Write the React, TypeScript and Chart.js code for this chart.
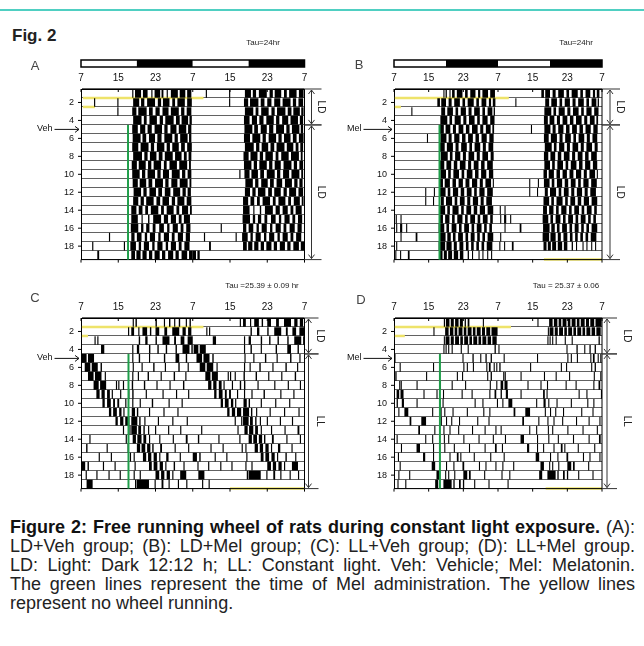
import React, { useEffect, useRef } from 'react';
import { Chart, registerables } from 'chart.js';

Chart.register(...registerables);
Chart.defaults.font.family = '"Liberation Sans", Arial, sans-serif';

// ---------------- DATA ----------------
const DAY_LABELS = ['1','2','3','4','5','6','7','8','9','10','11','12','13','14','15','16','17','18','19'];
const X_TICK_LABELS = ['7', '15', '23', '7', '15', '23', '7'];
const LIGHT_DARK = ['light', 'dark', 'light', 'dark'];
const PANEL_LETTERS = ['A', 'B', 'C', 'D'];
const TAU_TEXTS = ['Tau=24hr', 'Tau=24hr', 'Tau =25.39 \u00b1 0.09 hr', 'Tau = 25.37 \u00b1 0.06'];
const TREATMENTS = ['Veh', 'Mel', 'Veh', 'Mel'];
const TREATMENT_START_DAY = 5;
const MEL_HOURS = [10.1, 10.5, 10.2, 10.6];
const CONDITIONS_AB = [['LD', 1, 4], ['LD', 5, 19]];
const CONDITIONS_CD = [['LD', 1, 4], ['LL', 5, 19]];
// [row boundary index, from hour, to hour]
const NO_RUN_A = [[1, 0.4, 26.3], [2, 0.4, 3.0]];
const NO_RUN_B = [[1, 0.2, 26.5], [2, 0.2, 1.6], [19, 34.6, 48]];
const NO_RUN_C = [[1, 0.2, 26.3], [2, 0.2, 1.5], [19, 32.0, 48]];
const NO_RUN_D = [[1, 0.2, 27.0], [2, 0.2, 2.5], [19, 35.0, 48]];

// activity bouts per day, hours after 7:00 (double plotted: row n = day n + day n+1)
const A_DAY_BOUTS = [
  [[11.0,11.25],[11.6,12.9],[13.3,14.3],[15.1,15.35],[15.8,17.0],[17.3,17.7],[18.4,18.65],[19.3,20.8],[21.2,22.4],[22.8,23.7]],
  [[2.8,3.05],[7.8,8.05],[11.2,12.5],[12.9,13.6],[14.2,15.9],[16.5,17.2],[17.6,19.0],[19.6,20.2],[20.7,22.3],[22.8,23.8]],
  [[7.8,8.05],[11.0,11.9],[12.3,14.1],[14.6,15.4],[16.0,16.9],[17.5,18.8],[19.3,21.0],[21.5,22.2],[22.7,23.7]],
  [[11.2,13.0],[13.5,14.1],[14.7,16.3],[16.9,17.6],[18.1,19.9],[20.4,21.2],[21.6,23.0],[23.3,23.8]],
  [[11.0,12.2],[12.7,13.8],[14.3,15.2],[15.8,17.4],[17.9,18.6],[19.2,20.5],[21.0,22.6],[23.0,23.7]],
  [[11.1,12.8],[13.2,14.0],[14.6,15.9],[16.4,17.3],[17.9,19.6],[20.1,20.8],[21.3,22.9],[23.2,23.7]],
  [[11.0,12.3],[12.8,14.5],[15.0,15.7],[16.3,17.9],[18.4,19.1],[19.6,21.0],[21.5,22.3],[22.8,23.8]],
  [[11.2,13.1],[13.6,14.3],[14.8,16.2],[16.7,17.5],[18.0,19.7],[20.2,21.6],[22.1,22.7],[23.1,23.7]],
  [[10.9,12.0],[12.4,13.9],[14.4,15.1],[15.6,17.2],[17.8,18.4],[19.0,20.6],[21.1,22.8],[23.2,23.6]],
  [[11.0,12.6],[13.1,13.8],[14.3,15.9],[16.4,17.1],[17.6,18.9],[19.5,21.2],[21.7,22.4],[22.9,23.7]],
  [[10.0,10.25],[11.1,12.2],[12.6,14.0],[14.5,15.3],[15.9,17.6],[18.1,18.8],[19.4,20.7],[21.2,22.9],[23.3,23.7]],
  [[11.3,12.9],[13.4,14.1],[14.7,16.1],[16.6,17.4],[18.0,19.2],[19.8,21.3],[21.8,22.5],[22.9,23.6]],
  [[11.2,12.3],[12.8,13.5],[14.0,15.6],[16.2,17.0],[17.5,18.9],[19.5,20.2],[20.7,22.2],[22.7,23.7]],
  [[10.8,11.9],[12.4,13.2],[13.8,14.4],[15.0,16.6],[17.2,17.8],[18.4,19.9],[20.5,21.1],[21.7,23.0],[23.4,23.8]],
  [[10.8,12.2],[13.0,13.25],[14.4,14.7],[15.5,17.2],[17.8,18.7],[19.3,20.4],[21.0,21.6],[22.1,23.4]],
  [[10.7,12.3],[12.9,13.4],[14.0,14.7],[15.4,16.0],[16.8,17.8],[18.5,19.0],[19.7,20.8],[21.4,22.0],[22.6,23.5]],
  [[6.0,6.25],[10.8,11.5],[12.0,13.0],[13.7,14.2],[14.8,15.9],[16.6,17.1],[17.8,18.9],[19.5,20.1],[20.8,21.9],[22.5,23.4]],
  [[2.4,2.65],[9.2,9.45],[10.6,11.8],[12.4,12.9],[13.5,14.6],[15.3,15.8],[16.4,17.5],[18.2,18.7],[19.3,20.4],[21.0,21.6],[22.2,23.3]],
  [[3.5,3.9],[10.8,11.6],[11.9,12.8],[13.2,14.1],[14.6,15.3],[15.8,16.9],[17.4,18.1],[18.7,19.8],[20.3,21.0],[21.6,22.8],[23.2,24.0]],
  [[0.0,0.7],[1.0,1.5]],
];

const B_DAY_BOUTS = [
  [[11.4,11.65],[11.9,12.2],[12.8,13.05],[13.4,14.0],[14.5,15.8],[16.4,17.0],[17.6,18.8],[19.4,19.9],[20.4,21.7],[22.2,23.3]],
  [[10.0,10.6],[10.9,12.0],[12.6,13.3],[13.9,15.2],[15.8,16.4],[17.0,18.4],[19.0,19.6],[20.2,21.3],[21.9,22.4],[22.8,23.4]],
  [[4.0,4.25],[10.9,11.8],[12.3,13.6],[14.2,14.8],[15.4,16.6],[17.2,17.9],[18.5,19.8],[20.4,21.0],[21.6,22.7],[23.0,23.3]],
  [[10.7,12.3],[12.8,13.4],[14.0,15.4],[16.0,16.7],[17.3,18.6],[19.2,19.8],[20.4,21.6],[22.2,23.2]],
  [[10.6,11.5],[11.9,13.0],[13.6,14.3],[14.9,16.0],[16.6,17.4],[18.0,19.3],[19.9,20.6],[21.2,22.3],[22.7,23.1]],
  [[7.6,7.85],[10.7,12.1],[12.6,13.3],[13.9,15.1],[15.7,16.5],[17.1,18.2],[18.8,19.6],[20.2,21.4],[22.0,23.0]],
  [[10.6,11.7],[12.2,13.6],[14.2,14.9],[15.5,16.8],[17.4,18.0],[18.6,19.9],[20.5,21.2],[21.8,22.9]],
  [[10.8,12.4],[12.9,13.5],[14.1,15.3],[15.9,16.6],[17.2,18.5],[19.1,19.8],[20.4,21.7],[22.3,23.0]],
  [[10.6,11.6],[12.1,13.2],[13.8,14.6],[15.2,16.5],[17.1,17.8],[18.4,19.5],[20.1,20.9],[21.5,22.8]],
  [[10.7,12.0],[12.5,13.1],[13.7,15.0],[15.6,16.2],[16.8,18.1],[18.7,19.5],[20.1,21.3],[21.9,22.9]],
  [[10.5,11.3],[11.7,12.9],[13.5,14.3],[14.9,15.9],[16.5,17.4],[18.0,19.2],[19.8,20.5],[21.1,22.4],[22.8,23.05]],
  [[7.2,7.45],[9.2,9.45],[10.6,11.9],[12.4,13.0],[13.6,14.8],[15.4,16.2],[16.8,17.9],[18.5,19.1],[19.7,20.9],[21.5,22.8]],
  [[7.2,7.45],[9.0,9.25],[10.8,11.5],[12.0,13.4],[14.0,14.6],[15.2,16.3],[16.9,17.6],[18.2,19.4],[20.0,20.7],[21.3,22.6]],
  [[10.5,11.8],[12.3,12.9],[13.5,14.9],[15.5,16.1],[16.7,17.8],[18.4,19.2],[19.8,21.0],[21.6,22.9]],
  [[0.4,0.65],[1.5,1.75],[10.4,11.3],[11.8,12.8],[13.4,14.0],[14.6,15.8],[16.4,17.0],[17.6,18.7],[19.3,19.9],[20.5,21.6],[22.2,22.8]],
  [[0.5,0.75],[1.4,1.9],[2.8,3.05],[10.3,11.6],[12.1,12.7],[13.3,14.4],[15.0,15.6],[16.2,17.3],[17.9,18.5],[19.1,20.2],[20.8,21.4],[22.0,22.6]],
  [[1.5,1.75],[5.0,5.4],[10.4,11.9],[12.3,13.1],[13.6,14.2],[14.8,15.9],[16.5,17.1],[17.7,18.6],[19.2,19.8],[20.4,21.0],[21.6,22.9]],
  [[0.5,0.75],[10.3,11.8],[12.1,13.3],[13.8,14.5],[15.1,16.0],[16.6,17.2],[17.8,18.4],[19.0,19.6],[20.2,20.8],[21.4,22.7]],
  [[0.3,0.55],[1.4,1.65],[3.2,3.6],[10.5,11.2],[11.5,12.2],[12.5,13.4],[13.8,14.8],[15.2,16.0],[17.0,17.3],[18.0,18.25],[19.5,19.75],[20.4,20.65],[21.5,21.75],[22.4,22.65]],
  [],
];

const C_DAY_BOUTS = [
  [[11.1,11.35],[11.7,12.0],[16.0,16.3],[17.8,18.05],[18.9,19.2],[20.0,20.25],[21.0,21.3],[22.5,22.75],[23.3,23.6]],
  [[10.1,10.35],[10.8,11.4],[12.3,12.55],[13.2,14.2],[14.8,15.1],[16.0,16.8],[17.9,18.5],[19.6,21.1],[21.8,22.5],[23.0,23.7]],
  [[2.9,3.15],[3.5,3.75],[12.4,12.7],[13.8,14.3],[16.0,16.3],[17.5,19.0],[20.0,20.4],[21.4,22.2],[22.9,24.0]],
  [[4.3,5.0],[11.0,11.25],[12.0,12.5],[14.6,14.9],[16.4,16.7],[18.2,18.5],[20.3,20.6],[21.8,23.3],[23.7,24.0]],
  [[0.2,1.2],[1.5,2.8],[11.0,11.25],[12.4,12.7],[14.6,14.85],[17.8,18.1],[20.3,21.1],[22.5,22.8]],
  [[0.8,2.0],[2.3,3.6],[4.2,4.5],[11.1,11.35],[13.0,13.25],[15.5,15.8],[18.0,18.25],[20.9,21.2],[22.9,23.15]],
  [[1.5,2.7],[3.0,4.4],[5.1,5.35],[11.0,11.25],[12.2,12.45],[14.3,14.6],[17.1,17.35],[19.9,20.2],[22.4,22.65]],
  [[2.7,3.8],[4.1,5.4],[7.5,7.75],[8.0,8.25],[9.0,9.25],[10.9,11.2],[13.5,13.8],[16.2,16.45],[19.0,19.25],[21.9,22.2]],
  [[3.3,4.0],[4.4,5.1],[5.6,6.2],[6.6,6.85],[8.4,8.65],[10.1,10.4],[11.0,11.3],[13.9,14.15],[17.5,17.75],[20.4,20.65],[23.0,23.25]],
  [[4.6,5.1],[5.6,6.4],[6.9,7.3],[7.8,8.2],[9.5,9.75],[11.0,11.25],[12.6,12.85],[15.2,15.5],[18.8,19.05],[21.6,21.85]],
  [[6.0,6.5],[6.9,7.7],[8.2,8.7],[9.1,9.35],[10.9,11.6],[12.0,12.3],[14.6,14.85],[17.7,17.95],[20.7,20.95]],
  [[7.4,7.9],[8.4,9.1],[9.5,10.4],[10.8,12.1],[12.5,12.8],[13.6,13.85],[16.5,16.75],[19.6,19.85],[22.7,22.95]],
  [[9.0,9.25],[10.4,10.65],[10.8,12.0],[12.3,12.9],[13.4,13.7],[14.4,14.65],[15.9,16.15],[18.7,18.95],[21.3,21.55]],
  [[1.8,2.05],[9.6,9.85],[11.1,11.8],[12.1,13.0],[13.4,14.0],[14.6,14.85],[16.8,17.05],[19.7,19.95],[22.5,22.9]],
  [[1.1,1.4],[5.5,5.75],[10.0,10.25],[12.0,12.7],[13.0,13.8],[14.2,14.9],[15.3,15.6],[17.0,17.4],[20.1,20.35],[23.0,23.25]],
  [[3.8,4.05],[6.4,6.65],[10.5,10.75],[11.3,11.55],[13.3,14.0],[14.4,15.1],[15.6,16.3],[16.8,17.05],[18.3,18.8],[21.2,21.45]],
  [[0.0,0.9],[1.4,1.7],[4.7,4.95],[7.2,7.45],[11.5,11.75],[14.6,15.2],[15.6,16.4],[16.9,17.6],[18.1,18.35],[19.9,20.2],[22.0,22.25]],
  [[1.0,1.25],[3.3,3.55],[5.9,6.15],[8.3,8.55],[11.3,11.55],[12.6,12.85],[16.0,16.8],[17.2,17.9],[18.4,19.1],[19.6,19.85],[21.3,22.6]],
  [[1.2,2.5],[11.6,11.9],[12.0,14.6],[15.8,16.05],[17.3,17.7],[18.8,19.05],[20.8,21.05],[22.6,22.85]],
  [[2.0,2.25],[3.4,3.65]],
];

const D_DAY_BOUTS = [
  [[11.5,11.8],[12.0,12.8],[13.1,13.8],[14.1,14.9],[15.2,15.9],[16.3,16.6],[17.0,17.4],[20.5,20.75]],
  [[9.1,9.35],[11.8,12.6],[12.9,13.7],[14.0,14.6],[14.9,15.8],[16.1,16.7],[17.0,17.9],[18.2,18.8],[19.1,20.0],[20.3,21.0],[21.3,22.2],[22.5,23.9]],
  [[11.5,11.75],[11.9,12.8],[13.1,13.8],[14.1,15.0],[15.3,15.9],[16.2,17.1],[17.4,18.0],[18.3,19.2],[19.5,20.1],[20.4,21.3],[21.6,22.4],[22.7,23.7]],
  [[11.4,11.65],[11.9,12.15],[12.5,12.75],[13.3,13.55],[15.4,15.65],[17.0,17.25],[23.2,23.5]],
  [[0.1,0.35],[15.8,16.05],[18.1,18.4],[19.9,20.15],[21.1,21.4],[22.3,22.6]],
  [[1.3,1.55],[9.0,9.25],[16.0,16.25],[16.8,17.05],[18.2,18.45],[21.3,21.55],[21.9,22.3],[23.0,23.25],[23.6,23.85]],
  [[0.3,0.6],[7.4,7.65],[14.5,14.75],[15.7,15.95],[21.5,21.75],[22.3,22.6]],
  [[1.2,1.4],[1.5,1.8],[5.2,5.45],[10.6,10.85],[13.3,13.55],[16.4,16.65],[22.1,22.35],[23.6,23.85]],
  [[0.6,1.2],[1.5,2.2],[6.8,7.05],[9.8,10.05],[11.3,11.55],[15.6,15.85],[17.9,18.15],[22.0,22.25],[23.2,23.6]],
  [[0.6,0.9],[1.8,2.3],[5.2,5.45],[10.4,10.8],[11.2,11.45],[18.6,18.85],[20.4,20.65],[23.75,24.0]],
  [[1.0,1.25],[2.4,3.3],[8.8,9.05],[10.5,11.0],[11.6,11.85],[13.5,13.75],[16.8,17.05],[20.6,20.85],[22.0,22.25]],
  [[3.6,4.0],[6.3,7.4],[10.8,11.05],[12.0,12.25],[13.2,13.45],[15.0,15.25],[19.2,19.45],[21.8,22.05]],
  [[5.6,6.0],[9.3,9.55],[11.4,11.65],[12.8,13.05],[14.8,15.05],[18.0,18.25],[20.9,21.15],[23.4,23.65]],
  [[0.6,0.85],[7.2,7.45],[8.8,9.05],[11.5,11.75],[12.5,12.75],[16.0,16.25],[19.5,19.75],[22.8,23.05]],
  [[1.6,1.85],[5.2,6.0],[9.0,9.25],[11.6,11.85],[13.8,14.05],[17.3,17.55],[20.9,21.15],[23.3,23.7]],
  [[0.9,1.15],[6.7,7.2],[9.0,9.25],[10.4,10.65],[12.8,13.05],[14.5,14.9],[15.3,15.55],[18.4,18.65],[22.2,22.45]],
  [[1.3,1.55],[8.7,9.5],[12.0,12.25],[13.7,13.95],[15.8,16.2],[19.6,19.85],[21.1,21.35],[23.4,23.65]],
  [[1.0,1.25],[3.5,3.75],[9.8,10.6],[11.8,12.05],[12.5,12.75],[13.9,14.15],[16.0,16.9],[17.3,17.7],[20.8,21.05]],
  [[0.8,1.05],[2.6,2.85],[9.5,10.2],[11.4,13.3],[13.7,14.0],[15.0,15.4],[15.9,16.2],[18.5,18.75],[21.8,22.05]],
  [[2.2,2.45]],
];

// ---------------- LAYOUT ----------------
type PanelCfg = {
  idx: number;
  top: number;
  padding: { left: number; right: number; top: number; bottom: number };
  days: number[][][];
  noRun: number[][];
  conditions: (string | number)[][];
  ldBar: boolean;
  letterOff: [number, number];
  tauOff: [number, number];
  treatOff: number;
  arrowOff: number;
  labelOff: number;
};

const PANELS: PanelCfg[] = [
  { idx: 0, top: 28, padding: { left: 51, right: 339.5, top: 43, bottom: 9 }, days: A_DAY_BOUTS, noRun: NO_RUN_A, conditions: CONDITIONS_AB, ldBar: true, letterOff: [-46, -23], tauOff: [-41.5, -46], treatOff: -44, arrowOff: 7, labelOff: 16 },
  { idx: 1, top: 28, padding: { left: 364, right: 42, top: 43, bottom: 9 }, days: B_DAY_BOUTS, noRun: NO_RUN_B, conditions: CONDITIONS_AB, ldBar: true, letterOff: [-35, -24], tauOff: [-26, -46], treatOff: -47, arrowOff: 8, labelOff: 18 },
  { idx: 2, top: 257, padding: { left: 51, right: 339.5, top: 43, bottom: 9 }, days: C_DAY_BOUTS, noRun: NO_RUN_C, conditions: CONDITIONS_CD, ldBar: false, letterOff: [-46, -20], tauOff: [-42.5, -32], treatOff: -44, arrowOff: 4, labelOff: 15 },
  { idx: 3, top: 257, padding: { left: 364, right: 42, top: 43, bottom: 9 }, days: D_DAY_BOUTS, noRun: NO_RUN_D, conditions: CONDITIONS_CD, ldBar: false, letterOff: [-33, -18], tauOff: [-36, -32], treatOff: -47, arrowOff: 5, labelOff: 25 },
];

function buildDatasets(days: number[][][]) {
  const rows: number[][][] = [];
  for (let r = 0; r < DAY_LABELS.length; r++) {
    const segs: number[][] = [];
    (days[r] || []).forEach(([s, e]) => segs.push([s, e]));
    (days[r + 1] || []).forEach(([s, e]) => segs.push([s + 24, e + 24]));
    rows.push(segs);
  }
  const maxSlots = Math.max(...rows.map((r) => r.length));
  const datasets: any[] = [];
  for (let k = 0; k < maxSlots; k++) {
    datasets.push({
      data: rows.map((r) => (r[k] ? r[k] : null)),
      backgroundColor: '#000',
      borderWidth: 0,
      barPercentage: 1,
      categoryPercentage: 0.96,
      grouped: false,
    });
  }
  return datasets;
}

function line(ctx: CanvasRenderingContext2D, x1: number, y1: number, x2: number, y2: number) {
  ctx.beginPath();
  ctx.moveTo(x1, y1);
  ctx.lineTo(x2, y2);
  ctx.stroke();
}

function makePlugin(cfg: PanelCfg) {
  const rowBound = (a: any, i: number) => a.top + (i * (a.bottom - a.top)) / DAY_LABELS.length;
  return {
    id: 'actogramDecor' + cfg.idx,
    beforeDatasetsDraw(chart: any) {
      const ctx = chart.ctx;
      const a = chart.chartArea;
      const xs = chart.scales.x;
      ctx.save();
      ctx.strokeStyle = '#eee36a';
      ctx.lineWidth = 2.5;
      cfg.noRun.forEach(([b, h1, h2]) => {
        const y = rowBound(a, b);
        line(ctx, xs.getPixelForValue(h1), y, xs.getPixelForValue(h2), y);
      });
      ctx.restore();
    },
    afterDraw(chart: any) {
      const ctx: CanvasRenderingContext2D = chart.ctx;
      const a = chart.chartArea;
      const xs = chart.scales.x;
      const rowH = (a.bottom - a.top) / DAY_LABELS.length;
      ctx.save();
      ctx.strokeStyle = '#000';
      ctx.lineWidth = 1;
      line(ctx, a.right, a.top, a.right, a.bottom);
      line(ctx, a.left, a.bottom, a.right, a.bottom);
      for (let i = 0; i < X_TICK_LABELS.length; i++) {
        const x = xs.getPixelForValue(i * 8);
        line(ctx, x, a.top, x, a.top + 3);
        line(ctx, x, a.bottom, x, a.bottom + 3);
      }
      for (let r = 1; r < DAY_LABELS.length; r += 2) {
        const y = a.top + (r + 0.5) * rowH;
        line(ctx, a.left - 3, y, a.left, y);
      }
      const gx = xs.getPixelForValue(MEL_HOURS[cfg.idx]);
      ctx.strokeStyle = '#1f9e4a';
      ctx.lineWidth = 2;
      line(ctx, gx, rowBound(a, TREATMENT_START_DAY - 1), gx, a.bottom);
      ctx.strokeStyle = '#000';
      ctx.lineWidth = 1;
      if (cfg.ldBar) {
        const y0 = a.top - 29;
        const h = 7;
        LIGHT_DARK.forEach((p, i) => {
          const x1 = xs.getPixelForValue(i * 12);
          const x2 = xs.getPixelForValue((i + 1) * 12);
          ctx.fillStyle = p === 'dark' ? '#000' : '#fff';
          ctx.fillRect(x1, y0, x2 - x1, h);
        });
        ctx.lineWidth = 1.5;
        ctx.strokeRect(xs.getPixelForValue(0), y0, xs.getPixelForValue(48) - xs.getPixelForValue(0), h);
      }
      ctx.fillStyle = '#444';
      ctx.font = '13px "Liberation Sans", Arial, sans-serif';
      ctx.textAlign = 'center';
      ctx.textBaseline = 'middle';
      ctx.fillText(PANEL_LETTERS[cfg.idx], a.left + cfg.letterOff[0], a.top + cfg.letterOff[1]);
      ctx.fillStyle = '#222';
      ctx.font = '8px "Liberation Sans", Arial, sans-serif';
      ctx.fillText(TAU_TEXTS[cfg.idx], a.right + cfg.tauOff[0], a.top + cfg.tauOff[1]);
      const ty = a.top + (TREATMENT_START_DAY - 0.5) * rowH;
      ctx.font = '9px "Liberation Sans", Arial, sans-serif';
      ctx.textAlign = 'left';
      ctx.fillStyle = '#111';
      const tx = a.left + cfg.treatOff;
      ctx.fillText(TREATMENTS[cfg.idx], tx, ty - 1);
      const tw = ctx.measureText(TREATMENTS[cfg.idx]).width;
      ctx.strokeStyle = '#111';
      ctx.lineWidth = 1;
      line(ctx, tx + tw + 2, ty, a.left - 2, ty);
      line(ctx, a.left - 2, ty, a.left - 6, ty - 3);
      line(ctx, a.left - 2, ty, a.left - 6, ty + 3);
      const ax = a.right + cfg.arrowOff;
      ctx.strokeStyle = '#333';
      cfg.conditions.forEach(([label, d1, d2]) => {
        const yT = rowBound(a, (d1 as number) - 1);
        const yBt = rowBound(a, d2 as number);
        line(ctx, a.right, yT, ax + 10, yT);
        line(ctx, a.right, yBt, ax + 10, yBt);
        line(ctx, ax, yT + 1, ax, yBt - 1);
        line(ctx, ax, yT + 1, ax - 3, yT + 5);
        line(ctx, ax, yT + 1, ax + 3, yT + 5);
        line(ctx, ax, yBt - 1, ax - 3, yBt - 5);
        line(ctx, ax, yBt - 1, ax + 3, yBt - 5);
        ctx.save();
        ctx.translate(a.right + cfg.labelOff, (yT + yBt) / 2);
        ctx.rotate(Math.PI / 2);
        ctx.fillStyle = '#222';
        ctx.font = '10px "Liberation Sans", Arial, sans-serif';
        ctx.textAlign = 'center';
        ctx.textBaseline = 'middle';
        ctx.fillText(label as string, 0, 0);
        ctx.restore();
      });
      ctx.restore();
    },
  };
}

function buildConfig(cfg: PanelCfg): any {
  return {
    type: 'bar',
    data: { labels: DAY_LABELS, datasets: buildDatasets(cfg.days) },
    options: {
      indexAxis: 'y',
      animation: false,
      responsive: false,
      maintainAspectRatio: false,
      events: [],
      layout: { padding: cfg.padding, autoPadding: false },
      plugins: { legend: { display: false }, tooltip: { enabled: false } },
      scales: {
        x: {
          type: 'linear',
          position: 'top',
          min: 0,
          max: 48,
          ticks: {
            stepSize: 8,
            autoSkip: false,
            maxRotation: 0,
            padding: 5,
            color: '#111',
            font: { size: 10 },
            callback: (v: any) => X_TICK_LABELS[Math.round(Number(v) / 8)] ?? '',
          },
          grid: { drawOnChartArea: false, drawTicks: false },
          border: { display: true, color: '#000', width: 1 },
          afterFit: (s: any) => { s.height = 18; },
        },
        y: {
          type: 'category',
          ticks: {
            autoSkip: false,
            padding: 7,
            color: '#111',
            font: { size: 9 },
            callback: function (this: any, v: any, i: number) {
              return (i + 1) % 2 === 0 ? this.getLabelForValue(v) : '';
            },
          },
          grid: { offset: true, color: '#3a3a3a', lineWidth: 0.8, drawTicks: false },
          border: { display: true, color: '#000', width: 1 },
          afterFit: (s: any) => { s.width = 30; },
        },
      },
    },
    plugins: [makePlugin(cfg)],
  };
}

function Panel({ cfg }: { cfg: PanelCfg }) {
  const ref = useRef<HTMLCanvasElement | null>(null);
  useEffect(() => {
    if (!ref.current) return;
    const chart = new Chart(ref.current, buildConfig(cfg));
    return () => chart.destroy();
  }, [cfg]);
  return (
    <canvas
      ref={ref}
      width={644}
      height={244}
      style={{ position: 'absolute', left: 0, top: cfg.top, width: 644, height: 244 }}
    />
  );
}

const CAPTION_LINES = [
  'LD+Veh group; (B): LD+Mel group; (C): LL+Veh group; (D): LL+Mel group.',
  'LD: Light: Dark 12:12 h; LL: Constant light. Veh: Vehicle; Mel: Melatonin.',
  'The green lines represent the time of Mel administration. The yellow lines',
];

export default function App() {
  const capFont = '"Liberation Sans", Arial, sans-serif';
  const lineStyle: React.CSSProperties = { textAlign: 'justify', textAlignLast: 'justify' as any, whiteSpace: 'nowrap' };
  return (
    <div style={{ position: 'absolute', left: 0, top: 0, width: 644, height: 646, background: '#fff', overflow: 'hidden' }}>
      <div style={{ position: 'absolute', left: 0, top: 9, width: 644, height: 2, background: '#4fcfc2' }} />
      <div style={{ position: 'absolute', left: 12, top: 26, fontFamily: capFont, fontWeight: 'bold', fontSize: 17, lineHeight: '20px', color: '#222' }}>
        Fig. 2
      </div>
      {PANELS.map((p) => (
        <Panel key={p.idx} cfg={p} />
      ))}
      <div style={{ position: 'absolute', left: 10, top: 518, width: 625, fontFamily: capFont, fontSize: 18, lineHeight: '19px', color: '#222' }}>
        <div style={lineStyle}>
          <b style={{ color: '#111' }}>Figure 2: Free running wheel of rats during constant light exposure.</b> (A):
        </div>
        {CAPTION_LINES.map((t, i) => (
          <div key={i} style={lineStyle}>{t}</div>
        ))}
        <div>represent no wheel running.</div>
      </div>
    </div>
  );
}
